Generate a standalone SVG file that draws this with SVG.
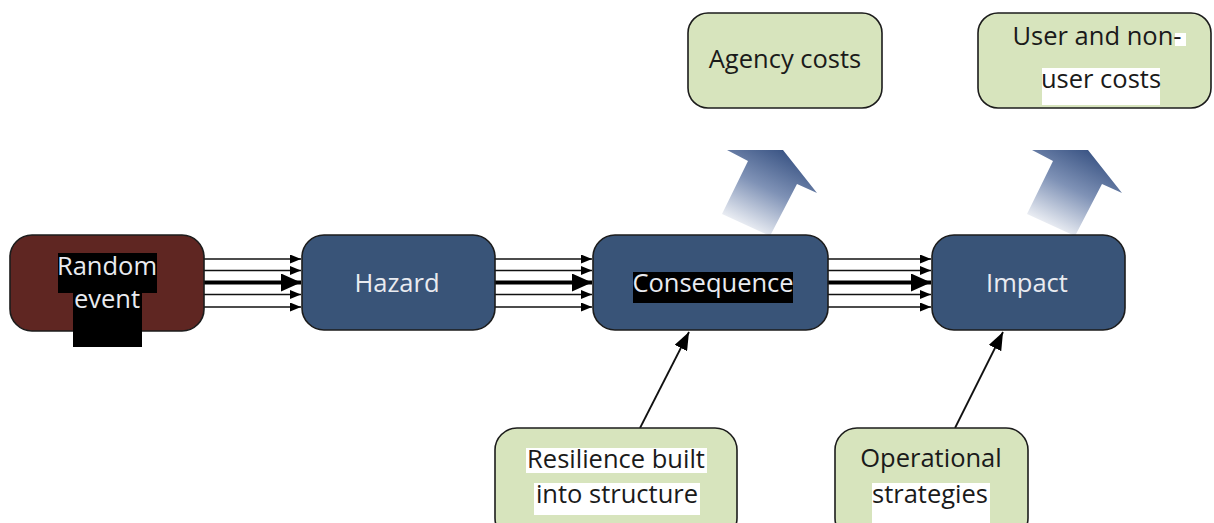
<svg xmlns="http://www.w3.org/2000/svg" width="1214" height="523" viewBox="0 0 1214 523">
  <style>
    .box { stroke: #1c1c1c; stroke-width: 1.6; }
    .dark { fill: #395478; }
    .event { fill: #5f2622; }
    .cost { fill: #d7e4bd; }
    .lbl { font-family: "Open Sans", "Noto Sans", sans-serif; font-size: 25.5px; text-anchor: middle; }
    .light { fill: #e9ebf0; }
    .ink { fill: #1a1a1a; }
    .thin { stroke: #111; stroke-width: 1.6; fill: none; marker-end: url(#headS); }
    .thick { stroke: #000; stroke-width: 4; fill: none; marker-end: url(#headL); }
    .feed { stroke: #111; stroke-width: 1.8; fill: none; marker-end: url(#headF); }
  </style>
  <defs>
    <marker id="headS" markerUnits="userSpaceOnUse" markerWidth="11" markerHeight="9" refX="11" refY="4.5" orient="auto">
      <path d="M0,0 L11,4.5 L0,9 z" fill="#000"/>
    </marker>
    <marker id="headL" markerUnits="userSpaceOnUse" markerWidth="20" markerHeight="18" refX="20" refY="9" orient="auto">
      <path d="M0,0 L20,9 L0,18 z" fill="#000"/>
    </marker>
    <marker id="headF" markerUnits="userSpaceOnUse" markerWidth="18" markerHeight="14" refX="18" refY="7" orient="auto">
      <path d="M0,0 L18,7 L0,14 z" fill="#000"/>
    </marker>
    <linearGradient id="fade" gradientUnits="userSpaceOnUse" x1="785" y1="150" x2="742" y2="234">
      <stop offset="0" stop-color="#3a5484"/>
      <stop offset="0.45" stop-color="#7f92b6"/>
      <stop offset="1" stop-color="#ffffff"/>
    </linearGradient>
    <polygon id="upArrow" points="727,150 783,150 817,193 797,184 770,236 722,214 748,161" fill="url(#fade)"/>
  </defs>

  <rect width="1214" height="523" fill="#ffffff"/>

  <!-- outcome arrows rising from the chain -->
  <g id="outcome-arrows">
    <use href="#upArrow"/>
    <use href="#upArrow" transform="translate(305,0)"/>
  </g>

  <!-- connectors -->
  <g id="connectors">
    <g id="bundle-event-hazard">
      <line class="thin" x1="204" y1="259" x2="301" y2="259"/>
      <line class="thin" x1="204" y1="270.5" x2="301" y2="270.5"/>
      <line class="thick" x1="204" y1="282.5" x2="301" y2="282.5"/>
      <line class="thin" x1="204" y1="294.5" x2="301" y2="294.5"/>
      <line class="thin" x1="204" y1="307" x2="301" y2="307"/>
    </g>
    <g id="bundle-hazard-consequence">
      <line class="thin" x1="495" y1="259" x2="592" y2="259"/>
      <line class="thin" x1="495" y1="270.5" x2="592" y2="270.5"/>
      <line class="thick" x1="495" y1="282.5" x2="592" y2="282.5"/>
      <line class="thin" x1="495" y1="294.5" x2="592" y2="294.5"/>
      <line class="thin" x1="495" y1="307" x2="592" y2="307"/>
    </g>
    <g id="bundle-consequence-impact">
      <line class="thin" x1="828" y1="259" x2="931" y2="259"/>
      <line class="thin" x1="828" y1="270.5" x2="931" y2="270.5"/>
      <line class="thick" x1="828" y1="282.5" x2="931" y2="282.5"/>
      <line class="thin" x1="828" y1="294.5" x2="931" y2="294.5"/>
      <line class="thin" x1="828" y1="307" x2="931" y2="307"/>
    </g>
    <line class="feed" x1="640" y1="428" x2="689" y2="332"/>
    <line class="feed" x1="955" y1="428" x2="1003" y2="332"/>
  </g>

  <!-- chain nodes -->
  <g id="random-event">
    <rect class="box event" x="10" y="235" width="194" height="96" rx="22"/>
    <rect x="58" y="253" width="99" height="40" fill="#000"/>
    <rect x="73" y="292" width="69" height="55" fill="#000"/>
    <text class="lbl light" x="107" y="275">Random</text>
    <text class="lbl light" x="107" y="308">event</text>
  </g>

  <g id="hazard">
    <rect class="box dark" x="302" y="235" width="193" height="95" rx="22"/>
    <text class="lbl light" x="397" y="292">Hazard</text>
  </g>

  <g id="consequence">
    <rect class="box dark" x="593" y="235" width="235" height="95" rx="22"/>
    <rect x="633" y="272" width="160" height="31" fill="#000"/>
    <text class="lbl light" x="713" y="292">Consequence</text>
  </g>

  <g id="impact">
    <rect class="box dark" x="932" y="235" width="193" height="95" rx="22"/>
    <text class="lbl light" x="1027" y="292">Impact</text>
  </g>

  <!-- cost nodes -->
  <g id="agency-costs">
    <rect class="box cost" x="688" y="13" width="194" height="95" rx="20"/>
    <text class="lbl ink" x="785" y="68">Agency costs</text>
  </g>

  <g id="user-costs">
    <rect class="box cost" x="978" y="13" width="233" height="95" rx="20"/>
    <rect x="1175" y="33" width="11" height="13" fill="#fff"/>
    <rect x="1042" y="68" width="118" height="37" fill="#fff"/>
    <text class="lbl ink" x="1097" y="45">User and non-</text>
    <text class="lbl ink" x="1101" y="88">user costs</text>
  </g>

  <!-- mitigation nodes -->
  <g id="resilience">
    <rect class="box cost" x="495" y="428" width="242" height="112" rx="22"/>
    <rect x="526" y="448" width="181" height="25" fill="#fff"/>
    <rect x="534" y="483" width="166" height="32" fill="#fff"/>
    <text class="lbl ink" x="616" y="468">Resilience built</text>
    <text class="lbl ink" x="617" y="503">into structure</text>
  </g>

  <g id="operational">
    <rect class="box cost" x="835" y="428" width="193" height="112" rx="22"/>
    <rect x="872" y="483" width="118" height="40" fill="#fff"/>
    <text class="lbl ink" x="931" y="467">Operational</text>
    <text class="lbl ink" x="930" y="503">strategies</text>
  </g>
</svg>
